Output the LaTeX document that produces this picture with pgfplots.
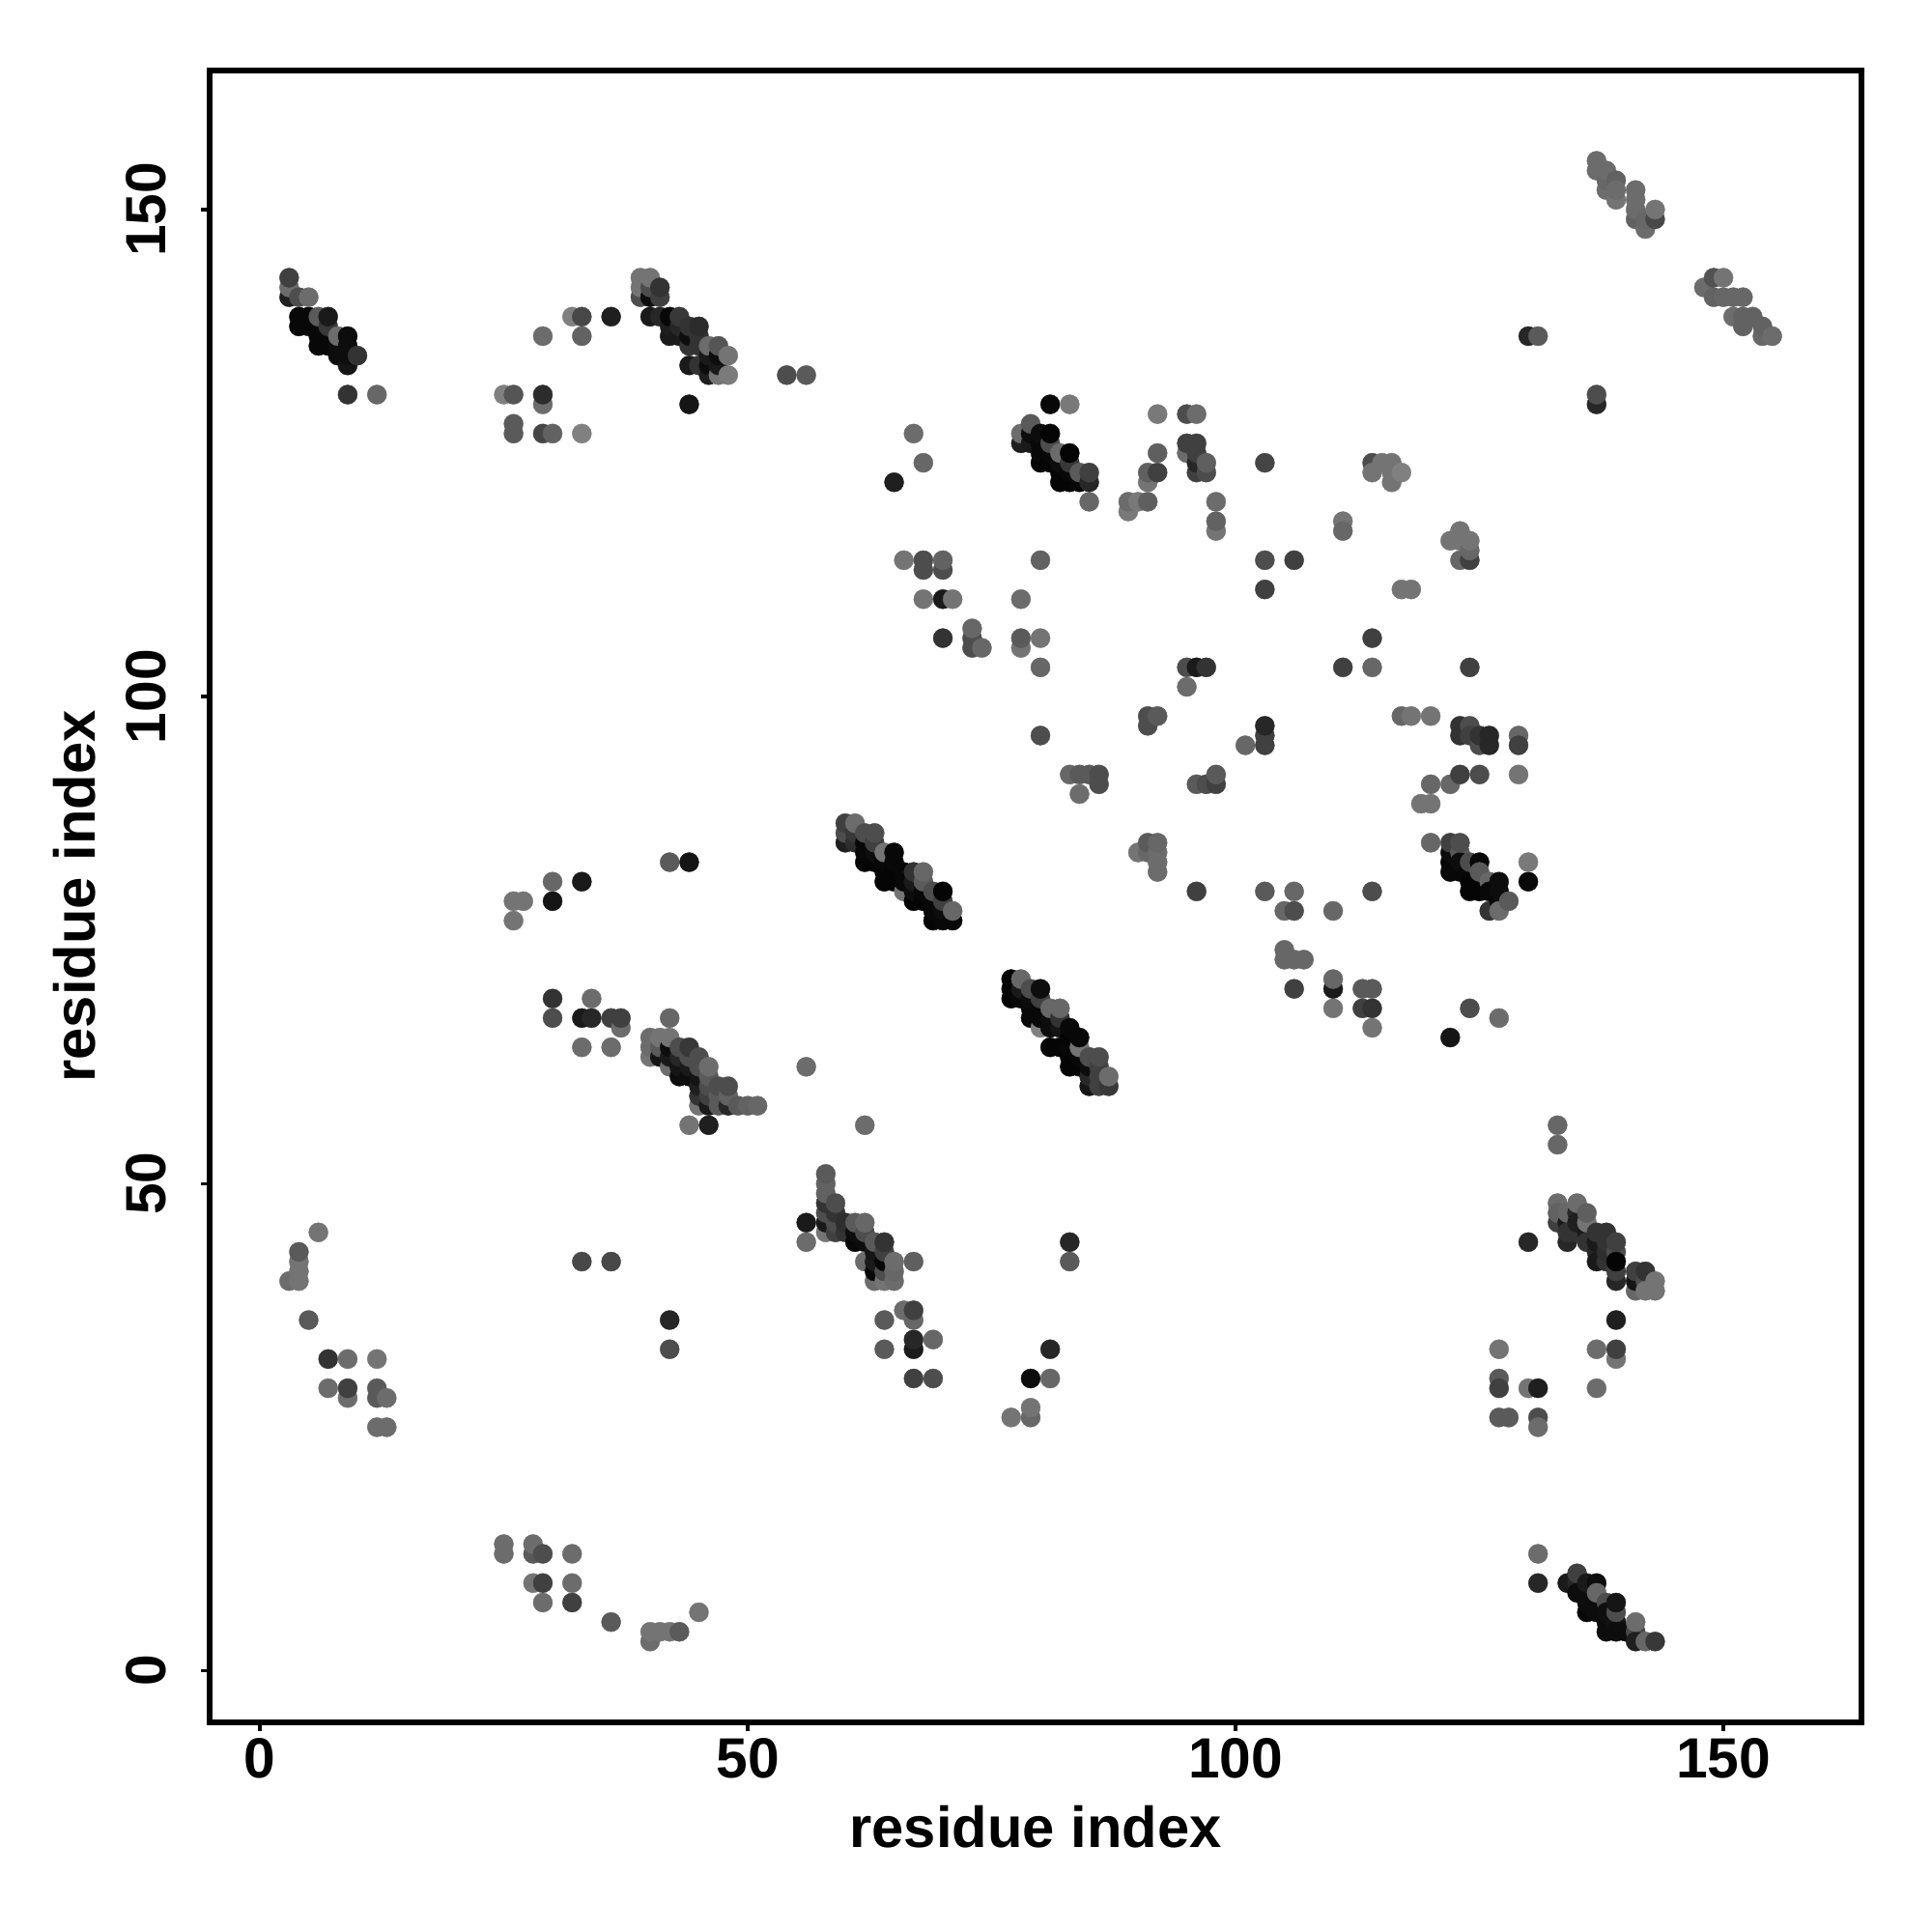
\documentclass[border=0pt]{standalone}
\usepackage{pgfplots}
\usepackage{pgfplotstable}
\usepackage{fontspec}
\setmainfont{Liberation Sans}
\pgfplotsset{compat=1.18}
\pgfplotstableread[row sep=\\]{
x y g\\
3 143 .25\\ 3 142 .42\\ 3 141 .12\\ 4 141 .3\\ 5 141 .42\\
4 139 .03\\ 5 139 .03\\ 6 139 .35\\ 7 139 .1\\ 4 138 .03\\ 5 138 .03\\ 6 138 .03\\ 7 138 .22\\
6 137 .03\\ 7 137 .03\\ 8 137 .42\\ 9 137 .05\\ 6 136 .03\\ 7 136 .03\\ 8 136 .05\\ 9 136 .05\\
8 135 .05\\ 9 135 .05\\ 10 135 .2\\ 9 134 .08\\ 9 131 .2\\ 12 131 .4\\
32 139 .5\\ 33 139 .28\\ 36 139 .12\\ 29 137 .42\\ 33 137 .38\\ 25 131 .5\\ 26 131 .33\\ 29 131 .17\\ 29 130 .42\\
26 128 .35\\ 26 127 .35\\ 29 127 .27\\ 30 127 .38\\ 33 127 .5\\ 44 130 .08\\
39 143 .45\\ 40 143 .45\\ 39 142 .45\\ 40 142 .3\\ 41 142 .2\\ 39 141 .3\\ 40 141 .05\\ 41 141 .25\\
40 139 .1\\ 41 139 .15\\ 42 139 .03\\ 43 139 .22\\ 42 138 .12\\ 43 138 .15\\ 44 138 .2\\ 45 138 .17\\
42 137 .1\\ 43 137 .1\\ 44 137 .05\\ 45 137 .2\\ 44 136 .2\\ 45 136 .2\\ 46 136 .42\\ 47 136 .33\\
46 135 .1\\ 47 135 .05\\ 48 135 .45\\ 44 134 .1\\ 45 134 .2\\ 46 134 .05\\ 47 134 .1\\ 46 133 .12\\ 47 133 .45\\ 48 133 .48\\
54 133 .3\\ 56 133 .35\\
81 130 .03\\ 83 130 .47\\ 92 129 .47\\ 95 129 .3\\ 96 129 .42\\ 79 128 .35\\
78 127 .42\\ 79 127 .05\\ 80 127 .05\\ 81 127 .02\\ 78 126 .12\\ 79 126 .1\\ 80 126 .03\\ 81 126 .3\\
80 125 .03\\ 81 125 .03\\ 82 125 .42\\ 83 125 .02\\ 80 124 .02\\ 81 124 .02\\ 82 124 .05\\ 83 124 .22\\
82 123 .02\\ 83 123 .03\\ 84 123 .35\\ 85 123 .25\\ 82 122 .02\\ 83 122 .02\\ 84 122 .03\\ 85 122 .15\\ 85 120 .4\\
92 125 .37\\ 91 123 .37\\ 92 123 .25\\ 91 122 .45\\ 89 120 .42\\ 90 120 .47\\ 91 120 .37\\ 89 119 .47\\
95 126 .25\\ 96 126 .25\\ 95 125 .42\\ 96 125 .25\\ 96 124 .15\\ 97 124 .37\\ 96 123 .25\\ 97 123 .3\\
98 120 .42\\ 98 118 .38\\ 98 117 .45\\ 80 114 .38\\ 78 110 .42\\
73 107 .4\\ 73 106 .3\\ 74 105 .4\\ 73 105 .3\\ 78 106 .35\\ 78 105 .45\\ 80 106 .45\\ 80 103 .4\\
95 103 .3\\ 96 103 .1\\ 97 103 .2\\ 95 101 .42\\
65 122 .12\\ 67 127 .42\\ 68 124 .4\\ 66 114 .45\\ 68 114 .3\\ 68 113 .3\\ 70 114 .38\\ 70 113 .3\\
68 110 .45\\ 70 110 .1\\ 71 110 .45\\ 70 106 .2\\
103 124 .27\\ 103 114 .3\\ 106 114 .25\\ 103 111 .25\\ 111 118 .45\\ 111 117 .4\\
114 124 .3\\ 114 123 .45\\ 115 124 .45\\ 116 124 .45\\ 116 122 .45\\ 117 123 .5\\ 116 123 .45\\
117 111 .45\\ 118 111 .45\\ 122 116 .45\\ 123 117 .45\\ 123 116 .45\\ 124 116 .45\\ 124 115 .4\\ 123 114 .4\\ 124 114 .25\\
114 106 .25\\ 111 103 .25\\ 114 103 .4\\ 124 103 .25\\
91 98 .3\\ 92 98 .35\\ 91 97 .3\\ 96 91 .35\\ 97 91 .3\\ 98 91 .25\\ 98 92 .35\\
101 95 .4\\ 103 95 .25\\ 103 96 .25\\ 103 97 .15\\ 80 96 .3\\
117 98 .4\\ 118 98 .45\\ 120 98 .45\\ 83 92 .4\\ 84 92 .35\\ 85 92 .35\\ 86 92 .3\\ 86 91 .3\\ 84 90 .42\\
120 91 .4\\ 119 89 .45\\ 120 89 .45\\ 122 91 .4\\ 123 92 .25\\ 125 92 .3\\ 129 92 .45\\ 129 96 .4\\ 129 95 .25\\
123 97 .2\\ 124 97 .3\\ 123 96 .2\\ 124 96 .25\\ 125 96 .2\\ 126 96 .15\\ 125 95 .3\\ 126 95 .15\\
91 85 .35\\ 90 84 .45\\ 91 84 .4\\ 92 85 .4\\ 92 84 .42\\ 92 83 .42\\ 92 82 .42\\ 96 80 .25\\
103 80 .35\\ 106 80 .4\\ 105 78 .4\\ 106 78 .3\\ 110 78 .4\\ 114 80 .3\\
105 74 .4\\ 105 73 .4\\ 106 73 .4\\ 107 73 .4\\ 106 70 .25\\ 110 71 .4\\ 110 70 .1\\ 113 70 .35\\ 114 70 .35\\
113 68 .25\\ 114 68 .2\\ 110 68 .45\\ 114 66 .45\\ 122 65 .08\\ 124 68 .3\\ 127 67 .42\\
120 85 .4\\ 122 85 .25\\ 123 85 .3\\ 122 84 .05\\ 123 84 .35\\ 122 83 .02\\ 123 83 .05\\ 124 83 .3\\ 125 83 .03\\
122 82 .03\\ 123 82 .03\\ 124 82 .03\\ 125 82 .35\\ 124 81 .02\\ 125 81 .02\\ 126 81 .4\\ 127 81 .05\\
124 80 .02\\ 125 80 .02\\ 126 80 .03\\ 127 80 .05\\ 127 79 .03\\ 128 79 .35\\ 126 78 .2\\ 127 78 .42\\ 130 83 .47\\ 130 81 .03\\
60 87 .25\\ 61 87 .42\\ 60 86 .3\\ 61 86 .22\\ 62 86 .3\\ 63 86 .3\\ 60 85 .12\\ 61 85 .18\\ 62 85 .03\\ 63 85 .25\\
62 84 .03\\ 63 84 .05\\ 64 84 .45\\ 65 84 .03\\ 62 83 .02\\ 63 83 .02\\ 64 83 .03\\ 65 83 .03\\
64 82 .02\\ 65 82 .02\\ 66 82 .03\\ 67 82 .2\\ 68 82 .4\\ 64 81 .02\\ 65 81 .02\\ 66 81 .03\\ 67 81 .1\\ 68 81 .35\\
66 80 .45\\ 67 80 .05\\ 68 80 .03\\ 69 80 .3\\ 70 80 .02\\ 67 79 .02\\ 68 79 .02\\ 69 79 .03\\ 70 79 .25\\
69 78 .03\\ 70 78 .05\\ 71 78 .4\\ 69 77 .02\\ 70 77 .03\\ 71 77 .03\\
77 71 .02\\ 78 71 .4\\ 77 70 .03\\ 78 70 .1\\ 79 70 .3\\ 80 70 .05\\ 77 69 .02\\ 78 69 .03\\ 79 69 .05\\ 80 69 .25\\
79 68 .03\\ 80 68 .03\\ 81 68 .4\\ 82 68 .4\\ 79 67 .03\\ 80 67 .03\\ 81 67 .05\\ 82 67 .2\\ 80 66 .5\\ 81 66 .05\\ 82 66 .08\\ 83 66 .03\\
83 65 .02\\ 84 65 .03\\ 81 64 .02\\ 82 64 .02\\ 83 64 .03\\ 84 64 .45\\ 83 63 .02\\ 84 63 .03\\ 85 63 .3\\ 86 63 .3\\
83 62 .02\\ 84 62 .02\\ 85 62 .05\\ 86 62 .25\\ 85 61 .15\\ 86 61 .25\\ 87 61 .42\\ 85 60 .08\\ 86 60 .25\\ 87 60 .22\\
42 67 .4\\ 37 67 .25\\ 37 66 .42\\ 36 64 .42\\
40 65 .42\\ 41 65 .45\\ 42 65 .45\\ 40 64 .42\\ 41 64 .35\\ 42 64 .05\\ 43 64 .3\\ 44 64 .22\\
40 63 .45\\ 41 63 .08\\ 42 63 .1\\ 43 63 .15\\ 44 63 .3\\ 45 63 .3\\ 42 62 .42\\ 43 62 .08\\ 44 62 .1\\ 45 62 .3\\ 46 62 .42\\
43 61 .05\\ 44 61 .05\\ 45 61 .08\\ 46 61 .35\\ 45 60 .12\\ 46 60 .3\\ 47 60 .3\\ 48 60 .3\\
45 59 .2\\ 46 59 .25\\ 47 59 .35\\ 48 59 .38\\ 45 58 .45\\ 46 58 .1\\ 47 58 .35\\ 48 58 .15\\ 49 58 .35\\ 50 58 .38\\ 51 58 .4\\
44 56 .45\\ 46 56 .12\\
30 69 .2\\ 34 69 .42\\ 30 67 .3\\ 33 67 .1\\ 34 67 .15\\ 36 67 .25\\ 33 64 .42\\ 56 62 .42\\ 62 56 .42\\
30 81 .4\\ 33 81 .1\\ 30 79 .08\\ 26 79 .45\\ 27 79 .45\\ 26 77 .45\\ 42 83 .35\\ 44 83 .08\\
56 46 .1\\ 56 44 .42\\ 58 51 .35\\ 58 50 .38\\ 58 49 .38\\ 58 48 .2\\ 59 48 .3\\ 58 47 .3\\ 59 47 .2\\
58 46 .1\\ 59 46 .3\\ 60 46 .18\\ 61 46 .35\\ 62 46 .4\\ 58 45 .45\\ 59 45 .25\\ 60 45 .2\\ 61 45 .05\\ 62 45 .3\\
61 44 .03\\ 62 44 .05\\ 63 44 .35\\ 64 44 .2\\ 63 43 .08\\ 64 43 .25\\ 62 42 .42\\ 63 42 .1\\ 64 42 .03\\ 65 42 .42\\ 67 42 .37\\
63 41 .03\\ 64 41 .3\\ 65 41 .4\\ 63 40 .42\\ 64 40 .45\\ 65 40 .42\\
66 37 .42\\ 67 37 .25\\ 67 36 .4\\ 64 36 .35\\ 67 34 .15\\ 69 34 .4\\ 67 33 .1\\ 64 33 .35\\ 67 30 .25\\ 69 30 .3\\
83 44 .15\\ 83 42 .35\\ 33 42 .28\\ 36 42 .28\\ 42 36 .15\\ 42 33 .3\\
81 33 .15\\ 79 30 .05\\ 81 30 .4\\ 79 27 .45\\ 77 26 .45\\ 79 26 .4\\ 130 44 .15\\
6 45 .45\\ 4 43 .35\\ 4 42 .45\\ 4 41 .45\\ 3 40 .42\\ 4 40 .45\\ 5 36 .35\\ 7 32 .2\\ 9 32 .42\\ 12 32 .45\\
7 29 .42\\ 9 29 .25\\ 9 28 .42\\ 12 29 .35\\ 12 28 .35\\ 13 28 .42\\ 12 25 .42\\ 13 25 .42\\
133 48 .42\\ 135 48 .42\\ 133 47 .38\\ 134 47 .4\\ 135 47 .15\\ 136 47 .37\\ 133 46 .25\\ 134 46 .1\\ 135 46 .12\\ 136 46 .45\\
134 45 .2\\ 135 45 .2\\ 136 45 .1\\ 137 45 .2\\ 138 45 .2\\ 134 44 .15\\ 136 44 .2\\ 137 44 .1\\ 138 44 .2\\ 139 44 .25\\
137 43 .15\\ 138 43 .18\\ 139 43 .3\\ 137 42 .1\\ 138 42 .2\\ 139 42 .02\\ 139 41 .25\\ 141 41 .25\\ 142 41 .2\\
139 40 .15\\ 141 40 .08\\ 142 40 .3\\ 143 40 .45\\ 141 39 .4\\ 142 39 .45\\ 143 39 .45\\
133 56 .4\\ 133 54 .4\\ 139 36 .12\\ 137 33 .42\\ 139 33 .25\\ 139 32 .45\\ 137 29 .42\\ 127 33 .45\\ 127 30 .35\\ 127 29 .25\\
130 29 .45\\ 131 29 .12\\ 127 26 .35\\ 128 26 .35\\ 131 26 .3\\ 131 25 .42\\ 131 12 .42\\ 131 9 .15\\
25 13 .42\\ 25 12 .42\\ 28 13 .42\\ 28 12 .35\\ 29 12 .3\\ 32 12 .42\\ 28 9 .45\\ 29 9 .25\\ 32 9 .42\\ 29 7 .42\\ 32 7 .25\\
36 5 .35\\ 40 4 .45\\ 40 3 .42\\ 41 4 .45\\ 42 4 .45\\ 43 4 .35\\ 45 6 .45\\
135 10 .25\\ 134 9 .1\\ 135 9 .15\\ 136 9 .1\\ 137 9 .05\\ 135 8 .05\\ 136 8 .05\\ 137 8 .4\\ 136 7 .05\\ 137 7 .05\\ 138 7 .3\\ 139 7 .08\\
136 6 .03\\ 137 6 .05\\ 138 6 .06\\ 139 6 .3\\ 138 5 .05\\ 139 5 .07\\ 141 5 .42\\ 138 4 .05\\ 139 4 .05\\ 140 4 .05\\ 141 4 .28\\
141 3 .12\\ 142 3 .4\\ 143 3 .22\\
130 137 .15\\ 131 137 .35\\ 137 131 .3\\ 137 130 .15\\
137 155 .42\\ 137 154 .42\\ 138 154 .42\\ 138 153 .4\\ 139 153 .38\\ 138 152 .42\\ 139 152 .42\\ 139 151 .45\\
141 152 .42\\ 141 151 .42\\ 141 150 .42\\ 141 149 .38\\ 142 149 .4\\ 143 150 .45\\ 143 149 .28\\ 142 148 .42\\
149 143 .32\\ 150 143 .45\\ 148 142 .42\\ 149 141 .38\\ 150 141 .4\\ 151 141 .4\\ 152 141 .4\\
151 139 .42\\ 152 139 .38\\ 153 139 .38\\ 152 138 .38\\ 154 138 .38\\ 154 137 .4\\ 155 137 .42\\
}\rawdata
\pgfplotstablesort[create on use/k/.style={create col/expr={\thisrow{x}*1000+\thisrow{y}}},sort key=k]\sorteddata{\rawdata}
\begin{document}
\begin{tikzpicture}
\useasboundingbox (0,0) rectangle (20cm,20cm);
\begin{axis}[
  at={(2.17cm,2.17cm)}, anchor=south west,
  scale only axis, width=17.1cm, height=17.1cm,
  xmin=-5.15, xmax=164.15, ymin=-5.3, ymax=164.27,
  axis line style={line width=0.55mm},
  tick pos=lower, tick align=outside,
  xtick={0,50,100,150}, ytick={0,50,100,150},
  tickwidth=0.9mm,
  tick style={line width=0.35mm, black},
  /pgf/number format/assume math mode=true,
  tick label style={font=\fontsize{16.7}{20}\selectfont\bfseries},
  xticklabel style={anchor=center, yshift=-2.8mm},
  yticklabel style={xshift=-5.7mm, anchor=center, rotate=90},
  xlabel={residue index}, ylabel={residue index},
  label style={font=\fontsize{17}{20}\selectfont\bfseries},
  xlabel style={at={(axis description cs:0.5,-0.063)}, anchor=center},
  ylabel style={at={(axis description cs:-0.0815,0.5)}, anchor=center, rotate=0},
  colormap={bw}{gray(0cm)=(0); gray(1cm)=(1)},
  point meta min=0, point meta max=1,
]
\addplot[scatter, only marks, mark=*, mark size=1.0mm, point meta=explicit,
  scatter/use mapped color={draw=mapped color, fill=mapped color},
  mark options={line width=0.1pt}]
  table[x=x, y=y, meta=g] {\sorteddata};
\end{axis}
\end{tikzpicture}
\end{document}
